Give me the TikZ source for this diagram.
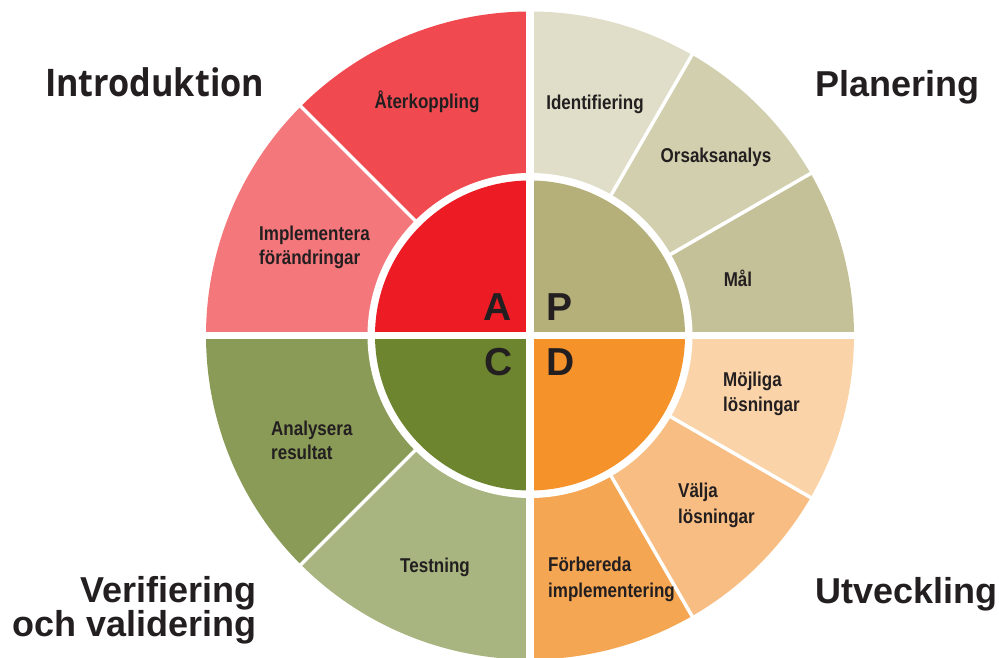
\documentclass[tikz,border=0pt]{standalone}
\usepackage{fontspec}
\setmainfont{Liberation Sans}
\newfontfamily\condfont{Liberation Sans}[FakeStretch=0.85]
\newfontfamily\introfont{Open Sans}[FakeStretch=0.9]
\definecolor{txt}{HTML}{231F20}
\definecolor{cA}{HTML}{ED1C24}
\definecolor{cAter}{HTML}{F04A50}
\definecolor{cImpl}{HTML}{F4777B}
\definecolor{cP}{HTML}{B5AF7A}
\definecolor{cIdent}{HTML}{E0DEC8}
\definecolor{cOrs}{HTML}{D2CFAE}
\definecolor{cMal}{HTML}{C4C098}
\definecolor{cC}{HTML}{6E852F}
\definecolor{cAna}{HTML}{8A9B57}
\definecolor{cTest}{HTML}{A8B580}
\definecolor{cD}{HTML}{F6922A}
\definecolor{cMoj}{HTML}{FAD4A8}
\definecolor{cVal}{HTML}{F8BD82}
\definecolor{cForb}{HTML}{F5A653}
\newcommand\mysector[4]{\fill[#1] (O) -- ++(#2:#4) arc[start angle=#2,end angle=#3,radius=#4] -- cycle;}
\begin{document}
\begin{tikzpicture}[x=1pt,y=1pt,
  lab/.style={font=\condfont\bfseries\fontsize{20}{22}\selectfont, text=txt, inner sep=0pt},
  big/.style={font=\bfseries\fontsize{36}{32}\selectfont, text=txt, inner sep=0pt},
  letter/.style={font=\bfseries\fontsize{39}{42}\selectfont, text=txt, inner sep=0pt},
  divider/.style={white, line width=3.5pt},
  band/.style={white, line width=7.5pt}]
\useasboundingbox (0,0) rectangle (999,658);
\coordinate (O) at (530,322.5);
% outer ring sectors
\mysector{cAter}{90}{135}{324}
\mysector{cImpl}{135}{180}{324}
\mysector{cIdent}{60}{90}{324}
\mysector{cOrs}{30}{60}{324}
\mysector{cMal}{0}{30}{324}
\mysector{cAna}{180}{225}{324}
\mysector{cTest}{225}{270}{324}
\mysector{cMoj}{-30}{0}{324}
\mysector{cVal}{-60}{-30}{324}
\mysector{cForb}{-90}{-60}{324}
% dividers
\foreach \a in {135,60,30,225,-30,-60}
  \draw[divider] (O) -- ++(\a:330);
% inner disk
\fill[white] (O) circle[radius=162.5];
\mysector{cA}{90}{180}{155}
\mysector{cP}{0}{90}{155}
\mysector{cC}{180}{270}{155}
\mysector{cD}{270}{360}{155}
% quadrant bands
\coordinate (top) at (530,660);
\coordinate (bot) at (530,-10);
\coordinate (lft) at (200,322.5);
\coordinate (rgt) at (860,322.5);
\draw[band] (top) -- (bot);
\draw[band,line width=7pt] (lft) -- (rgt);
% letters
\node[letter, anchor=base east] (lA) at (512,337) {A};
\node[letter, anchor=base west] (lP) at (546,337) {P};
\node[letter, anchor=base east] (lC) at (513,282) {C};
\node[letter, anchor=base west] (lD) at (546,282) {D};
% segment labels
\node[lab, anchor=base] (ater) at (427,549) {Återkoppling};
\node[lab, anchor=base west] (impl1) at (259,417) {Implementera};
\node[lab, anchor=base west] (impl2) at (259,393) {förändringar};
\node[lab, anchor=base] (ident) at (595,548) {Identifiering};
\node[lab, anchor=base] (ors) at (716,495) {Orsaksanalys};
\node[lab, anchor=base] (mal) at (738,371) {Mål};
\node[lab, anchor=base west] (moj1) at (723,271) {Möjliga};
\node[lab, anchor=base west] (moj2) at (723,246) {lösningar};
\node[lab, anchor=base west] (val1) at (678,160) {Välja};
\node[lab, anchor=base west] (val2) at (678,134) {lösningar};
\node[lab, anchor=base west] (forb1) at (548,86) {Förbereda};
\node[lab, anchor=base west] (forb2) at (548,60) {implementering};
\node[lab, anchor=base west] (ana1) at (271,222) {Analysera};
\node[lab, anchor=base west] (ana2) at (271,198) {resultat};
\node[lab, anchor=base] (test) at (435,85) {Testning};
% phase titles
\node[text=txt, inner sep=0pt, anchor=base west, font=\introfont\bfseries\fontsize{38}{42}\selectfont] (intro) at (45,561) {Introduktion};
\node[big, anchor=base west] (plan) at (815,561) {Planering};
\node[big, anchor=south east, align=right] (ver) at (257,13.4) {Verifiering\\och validering};
\node[big, anchor=base west] (utv) at (815,54) {Utveckling};
\end{tikzpicture}
\end{document}
